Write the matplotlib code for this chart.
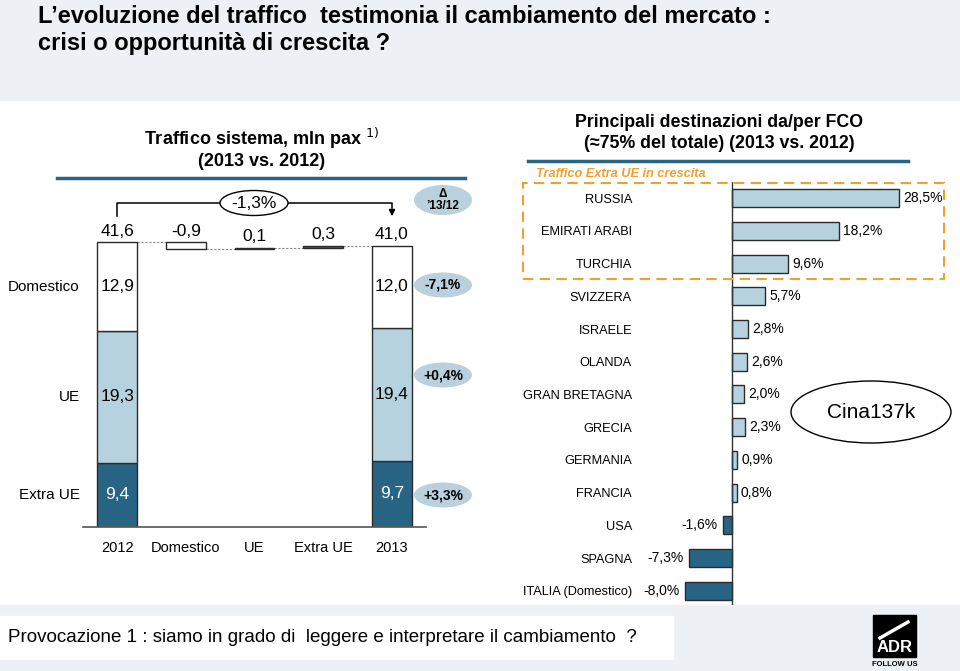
import matplotlib
matplotlib.use('Agg')
import matplotlib.pyplot as plt
from matplotlib.patches import Rectangle, Ellipse, FancyArrowPatch
from matplotlib.lines import Line2D

plt.rcParams['font.family'] = ['Liberation Sans', 'DejaVu Sans']

# --- data: left waterfall (mln pax) ---
steps = ['2012', 'Domestico', 'UE', 'Extra UE', '2013']
segments = ['Extra UE', 'UE', 'Domestico']          # bottom -> top
seg_2012 = [9.4, 19.3, 12.9]
seg_2013 = [9.7, 19.4, 12.0]
deltas = [-0.9, 0.1, 0.3]                           # Domestico, UE, Extra UE
totals = [41.6, 41.0]
seg_change = ['+3,3%', '+0,4%', '-7,1%']            # Extra UE, UE, Domestico
total_change = '-1,3%'

# --- data: right chart (% change 2013 vs 2012) ---
countries = ['RUSSIA', 'EMIRATI ARABI', 'TURCHIA', 'SVIZZERA', 'ISRAELE',
             'OLANDA', 'GRAN BRETAGNA', 'GRECIA', 'GERMANIA', 'FRANCIA',
             'USA', 'SPAGNA', 'ITALIA (Domestico)']
growth = [28.5, 18.2, 9.6, 5.7, 2.8, 2.6, 2.0, 2.3, 0.9, 0.8, -1.6, -7.3, -8.0]

LIGHT = '#b5d2de'
DARK = '#286584'
EDGE = '#2b2b2b'
BAND = '#edf0f5'
ORANGE = '#f0a030'
seg_colors = [DARK, LIGHT, 'white']

W, H = 960, 671
fig = plt.figure(figsize=(W / 100, H / 100), dpi=100)


def fx(x):
    return x / W


def fy(y):
    return 1 - y / H


def box(x0, y0, x1, y1):
    return [fx(x0), fy(y1), (x1 - x0) / W, (y1 - y0) / H]


def fmt(v):
    return f'{v:.1f}'.replace('.', ',')


# background bands
fig.add_artist(Rectangle((0, fy(100)), 1, 100 / H, transform=fig.transFigure,
                         color=BAND, zorder=0))
fig.add_artist(Rectangle((0, 0), 1, (H - 605) / H, transform=fig.transFigure,
                         color=BAND, zorder=0))
fig.add_artist(Rectangle((0, fy(659)), fx(673), 43 / H, transform=fig.transFigure,
                         color='white', zorder=1))

fig.text(fx(38), fy(30), "L\u2019evoluzione del traffico  testimonia il cambiamento del mercato :\n"
         "crisi o opportunità di crescita ?", fontsize=17, fontweight='bold',
         va='center', ha='left', linespacing=1.22)

fig.text(fx(8), fy(638), 'Provocazione 1 : siamo in grado di  leggere e interpretare il cambiamento  ?',
         fontsize=13.5, family=['Liberation Sans Narrow', 'Liberation Sans'],
         va='center', ha='left', zorder=2)

# ADR logo
fig.add_artist(Rectangle((fx(873), fy(657)), 43 / W, 42 / H, transform=fig.transFigure,
                         color='black', zorder=2))
fig.text(fx(894.5), fy(648), 'ADR', color='white', fontsize=12, fontweight='bold',
         ha='center', va='center', zorder=3)
fig.add_artist(Line2D([fx(880), fx(908)], [fy(638), fy(622)], transform=fig.transFigure,
                      color='white', lw=2.5, zorder=3))
fig.text(fx(894.5), fy(664), 'FOLLOW US', color='black', fontsize=5.5, fontweight='bold',
         ha='center', va='center', zorder=3)

# ---------------- left waterfall ----------------
ax1 = fig.add_axes(box(83, 185, 426, 527))
ax1.set_xlim(-0.5, 4.5)
ax1.set_ylim(0, 50)
bw = 0.58

for i, segs in [(0, seg_2012), (4, seg_2013)]:
    bottom = 0
    for k, (v, c) in enumerate(zip(segs, seg_colors)):
        ax1.bar(i, v, bw, bottom=bottom, color=c, edgecolor=EDGE, lw=1, zorder=2)
        ax1.text(i, bottom + v / 2, fmt(v), ha='center', va='center', fontsize=12.5,
                 color='white' if c == DARK else 'black', zorder=3)
        bottom += v

running = sum(seg_2012)
prev_right = (0 + bw / 2, totals[0])
float_colors = ['white', LIGHT, DARK]
for j, (d, c) in enumerate(zip(deltas, float_colors)):
    i = j + 1
    b = running + min(d, 0)
    ax1.plot([prev_right[0], i - bw / 2], [prev_right[1], prev_right[1]],
             color='#888888', lw=0.8, ls=(0, (2, 1.5)), zorder=1)
    ax1.bar(i, abs(d), bw, bottom=b, color=c, edgecolor=EDGE, lw=1, zorder=2)
    ax1.annotate(fmt(d), (i, b + abs(d)), xytext=(0, 8), textcoords='offset points',
                 ha='center', va='center', fontsize=12.5)
    running += d
    prev_right = (i + bw / 2, running)
ax1.plot([prev_right[0], 4 - bw / 2], [prev_right[1], prev_right[1]],
         color='#888888', lw=0.8, ls=(0, (2, 1.5)), zorder=1)

for i, t, top in [(0, totals[0], sum(seg_2012)), (4, totals[1], sum(seg_2013))]:
    ax1.annotate(fmt(t), (i, top), xytext=(0, 8), textcoords='offset points',
                 ha='center', va='center', fontsize=12.5)

bottom = 0
for name, v in zip(segments, seg_2012):
    ax1.text(-0.55, bottom + v / 2, name, ha='right', va='center', fontsize=11)
    bottom += v

for s in ['top', 'right', 'left']:
    ax1.spines[s].set_visible(False)
ax1.spines['bottom'].set_color('#555555')
ax1.spines['bottom'].set_linewidth(1.2)
ax1.set_yticks([])
ax1.set_xticks(range(len(steps)), steps, fontsize=10.5)
ax1.tick_params(axis='x', length=0, pad=10)
ax1.set_facecolor('none')


def pill(x, y, w, h, text, fc=LIGHT, ec='none', size=10, weight='bold'):
    fig.add_artist(Ellipse((fx(x), fy(y)), w / W, h / H, transform=fig.transFigure,
                           facecolor=fc, edgecolor=ec, lw=1, zorder=4))
    fig.text(fx(x), fy(y), text, ha='center', va='center', fontsize=size,
             fontweight=weight, zorder=5, linespacing=1.1)


pill(443, 200, 58, 30, 'Δ\n\u201913/12', fc='#bad0dc', size=8.5)
for lab, y in zip(seg_change, [495, 375, 285]):
    pill(443, y, 58, 25, lab, fc='#bad0dc', size=10)

# bracket total change
fig.add_artist(Line2D([fx(117), fx(117), fx(392), fx(392)],
                      [fy(216), fy(203), fy(203), fy(208)],
                      transform=fig.transFigure, color='black', lw=1.1, zorder=3))
fig.add_artist(FancyArrowPatch((fx(392), fy(207)), (fx(392), fy(219)),
                               transform=fig.transFigure, arrowstyle='-|>',
                               mutation_scale=9, color='black', lw=1.1, zorder=3))
pill(254, 203, 68, 25, total_change, fc='white', ec='black', size=12.5, weight='normal')

fig.text(fx(262), fy(148), 'Traffico sistema, mln pax $^{1)}$\n(2013 vs. 2012)',
         ha='center', va='center', fontsize=13, fontweight='bold', linespacing=1.2)
fig.add_artist(Line2D([fx(57), fx(465)], [fy(178), fy(178)], transform=fig.transFigure,
                      color=DARK, lw=2.5))

# ---------------- right bar chart ----------------
ax2 = fig.add_axes(box(682, 182, 914, 605))
ypos = list(range(len(countries)))
colors = [LIGHT if g >= 0 else DARK for g in growth]
ax2.barh(ypos, growth, 0.55, color=colors, edgecolor=EDGE, lw=1, zorder=2)
ax2.axvline(0, color='#333333', lw=1, zorder=3)
for y, g in zip(ypos, growth):
    ax2.annotate(fmt(g) + '%', (g, y), xytext=(3 if g >= 0 else -4, 0),
                 textcoords='offset points', ha='left' if g >= 0 else 'right',
                 va='center', fontsize=10)
ax2.set_xlim(-8.53, 31.06)
ax2.set_ylim(12.43, -0.49)
ax2.set_yticks(ypos, countries, fontsize=9.2)
ax2.tick_params(axis='y', length=0, pad=36)
ax2.set_xticks([])
for s in ax2.spines.values():
    s.set_visible(False)
ax2.set_facecolor('none')

fig.text(fx(719), fy(133), 'Principali destinazioni da/per FCO\n(\u224875% del totale) (2013 vs. 2012)',
         ha='center', va='center', fontsize=12.8, fontweight='bold', linespacing=1.25)
fig.add_artist(Line2D([fx(528), fx(908)], [fy(161), fy(161)], transform=fig.transFigure,
                      color=DARK, lw=2.5))
fig.text(fx(536), fy(174), 'Traffico Extra UE in crescita', color=ORANGE, fontsize=9.2,
         fontweight='bold', fontstyle='italic', ha='left', va='center')
fig.add_artist(Rectangle((fx(523), fy(279)), (944 - 523) / W, (279 - 183) / H,
                         transform=fig.transFigure, fill=False, edgecolor=ORANGE,
                         lw=1.5, ls=(0, (5, 3)), zorder=4))

fig.add_artist(Ellipse((fx(871), fy(412)), 160 / W, 62 / H, transform=fig.transFigure,
                       facecolor='white', edgecolor='black', lw=1, zorder=4))
fig.text(fx(871), fy(412), 'Cina137k', ha='center', va='center', fontsize=15, zorder=5)

fig.savefig('out.png', dpi=100)
